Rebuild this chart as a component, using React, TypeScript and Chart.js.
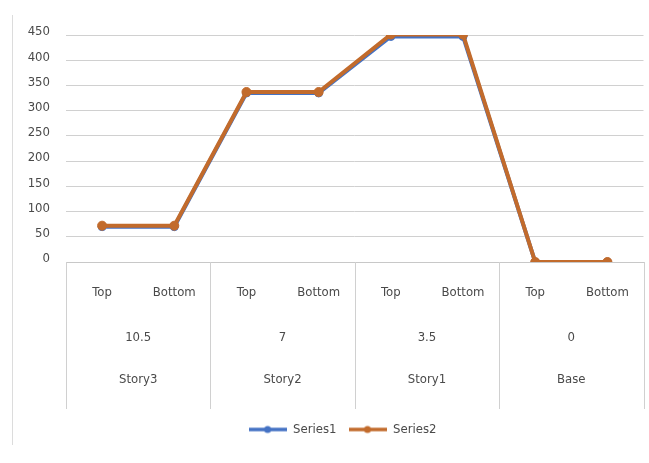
import React, { useEffect, useRef } from "react";
import { Chart, registerables } from "chart.js";

Chart.register(...registerables);

const positions = ["Top", "Bottom", "Top", "Bottom", "Top", "Bottom", "Top", "Bottom"];
const heights = ["10.5", "7", "3.5", "0"];
const stories = ["Story3", "Story2", "Story1", "Base"];
const series1 = [70, 70, 335, 335, 447, 447, 0, 0];
const series2 = [72, 72, 337, 337, 451, 451, 0, 0];
const seriesNames = ["Series1", "Series2"];
const seriesColors = ["#4472C4", "#C26B2C"];

const FONT = "'Liberation Sans Narrow', 'DejaVu Sans Condensed', 'Liberation Sans', sans-serif";
const TEXT = "#4a4a4a";
const LINE = "#d0d0d0";

function makeLegendImg(color: string) {
  const c = document.createElement("canvas");
  c.width = 38;
  c.height = 10;
  const g = c.getContext("2d")!;
  g.strokeStyle = color;
  g.lineWidth = 3.5;
  g.beginPath();
  g.moveTo(0, 5);
  g.lineTo(38, 5);
  g.stroke();
  g.fillStyle = color;
  g.beginPath();
  g.arc(19, 5, 3.5, 0, Math.PI * 2);
  g.fill();
  return c;
}

const legendShiftPlugin = {
  id: "legendShift",
  afterLayout(chart: any) {
    const lg = chart.legend;
    if (lg) {
      lg.left += 20;
      lg.right += 20;
    }
  },
};

const multiLevelPlugin = {
  id: "multiLevel",
  afterDraw(chart: any) {
    const ctx = chart.ctx;
    const x = chart.scales.x;
    const area = chart.chartArea;
    const top = area.bottom;
    const bottom = top + 147;
    ctx.save();
    ctx.strokeStyle = "#dcdcdc";
    ctx.lineWidth = 1;
    ctx.beginPath();
    ctx.moveTo(12.5, 15);
    ctx.lineTo(12.5, 445);
    ctx.stroke();

    const step = x.getPixelForValue(1) - x.getPixelForValue(0);
    ctx.strokeStyle = LINE;
    ctx.lineWidth = 1;
    for (let g = 0; g <= stories.length; g++) {
      const px = Math.round(x.getPixelForValue(g * 2) - step / 2) + 0.5;
      ctx.beginPath();
      ctx.moveTo(px, top);
      ctx.lineTo(px, bottom);
      ctx.stroke();
    }
    ctx.fillStyle = TEXT;
    ctx.font = `13px ${FONT}`;
    ctx.textAlign = "center";
    ctx.textBaseline = "middle";
    for (let g = 0; g < stories.length; g++) {
      const cx = (x.getPixelForValue(g * 2) + x.getPixelForValue(g * 2 + 1)) / 2;
      ctx.fillText(heights[g], cx, top + 76);
      ctx.fillText(stories[g], cx, top + 118);
    }
    ctx.restore();
  },
};

export default function App() {
  const ref = useRef<HTMLCanvasElement>(null);
  useEffect(() => {
    const imgs = seriesColors.map(makeLegendImg);
    const chart = new Chart(ref.current!, {
      type: "line",
      data: {
        labels: positions,
        datasets: [
          {
            label: seriesNames[0],
            data: series1,
            borderColor: seriesColors[0],
            backgroundColor: seriesColors[0],
            borderWidth: 4,
            pointRadius: 4,
            pointBorderWidth: 1,
            order: 2,
          },
          {
            label: seriesNames[1],
            data: series2,
            borderColor: seriesColors[1],
            backgroundColor: seriesColors[1],
            borderWidth: 4,
            pointRadius: 4.5,
            pointBorderWidth: 1,
            order: 1,
          },
        ],
      },
      options: {
        responsive: false,
        animation: false,
        layout: { padding: { top: 35, left: 0, right: 4, bottom: 17 } },
        scales: {
          x: {
            offset: true,
            grid: { display: false },
            border: { display: true, color: "#c8c8c8", width: 1 },
            ticks: { color: TEXT, font: { family: FONT, size: 13 }, padding: 15, maxRotation: 0, autoSkip: false },
            afterFit(scale: any) {
              scale.height = 149;
            },
          },
          y: {
            min: 0,
            max: 450,
            grid: { color: LINE, lineWidth: 1, drawTicks: false },
            border: { display: false },
            ticks: { stepSize: 50, color: TEXT, font: { family: FONT, size: 13 }, padding: 16, labelOffset: -3 },
            afterFit(scale: any) {
              scale.width = 66;
            },
          },
        },
        plugins: {
          tooltip: { enabled: false },
          legend: {
            position: "bottom",
            labels: {
              color: TEXT,
              font: { family: FONT, size: 13 },
              usePointStyle: true,
              pointStyleWidth: 38,
              padding: 12,
              sort: (a: any, b: any) => a.datasetIndex - b.datasetIndex,
              generateLabels: (chart: any) => {
                const items = (Chart.defaults.plugins.legend.labels as any).generateLabels(chart);
                return items.map((it: any) => ({ ...it, pointStyle: imgs[it.datasetIndex] }));
              },
            },
          },
        },
      },
      plugins: [multiLevelPlugin, legendShiftPlugin],
    });
    return () => chart.destroy();
  }, []);
  return (
    <div style={{ position: "absolute", left: 0, top: 0, width: 649, height: 463, background: "#fff" }}>
      <canvas ref={ref} width={649} height={463} />
    </div>
  );
}
